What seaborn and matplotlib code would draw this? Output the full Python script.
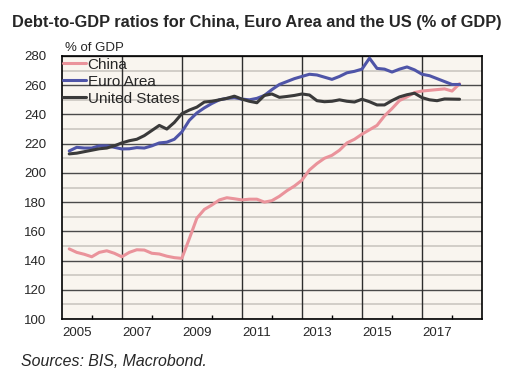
import numpy as np
import pandas as pd
import matplotlib
matplotlib.use("Agg")
import matplotlib.pyplot as plt
import seaborn as sns
from matplotlib.ticker import FixedLocator, MultipleLocator, NullFormatter

# Quarterly data, 2005Q1 - 2018Q1 (% of GDP)
quarters = pd.period_range("2005Q1", "2018Q1", freq="Q")

china = [148, 145.6, 144.3, 142.6, 145.6, 146.7, 145, 142.6, 145.6, 147.4, 147.2, 145, 144.5, 143, 142, 141.5,
         155, 169, 175, 178, 181.5, 183, 182.3, 181.5, 182, 182, 180, 181, 184, 187.8, 191, 195,
         202, 206.4, 210, 212, 215.5, 220.5, 223, 226.5, 229.5, 232.5, 239, 244, 249.5, 252, 255, 256,
         256.5, 257, 257.5, 256, 261]
euro_area = [215, 217.5, 217, 217, 218.5, 218.5, 217.5, 216.4, 216.5, 217.3, 217, 218.5, 220.5, 221, 223, 228,
             236, 241, 244.5, 247.5, 250, 251, 251.5, 250.5, 250, 251, 253, 257, 260.5, 262.5, 264.5, 266,
             267.5, 267, 265.5, 264, 266, 268.5, 269.5, 271, 278.5, 271.5, 271, 269, 271, 272.5, 270.5, 267.5,
             266.5, 264.5, 262.5, 260.5, 260.5]
united_states = [213, 213.5, 214.5, 215.5, 216.5, 217, 218.5, 220.5, 222, 223, 225.5, 229, 232.5, 230, 234.5, 240.5,
                 243, 245, 248.5, 249, 250, 251, 252.5, 250.5, 249, 248, 253, 254, 251.7, 252.3, 253, 254,
                 253.3, 249.4, 248.7, 249, 250, 249, 248.5, 250.4, 248.7, 246.5, 246.5, 249.5, 252, 253.5, 254.5, 251.5,
                 250, 249.4, 250.6, 250.5, 250.4]

series_names = ["China", "Euro Area", "United States"]
colours = ["#ea939b", "#4f55a8", "#3a3a3a"]
year_labels = [2005, 2007, 2009, 2011, 2013, 2015, 2017]

# quarter-end as decimal year
t = np.asarray(quarters.year + quarters.quarter / 4, dtype=float)
df = pd.DataFrame({
    "t": np.tile(t, 3),
    "value": china + euro_area + united_states,
    "series": np.repeat(series_names, len(t)),
})

sns.set_style("ticks")
plt.rcParams["font.family"] = ["Liberation Sans", "DejaVu Sans"]

fig = plt.figure(figsize=(5.24, 3.77), dpi=100)
ax = fig.add_axes([0.1178, 0.1538, 0.8022, 0.6977])
ax.set_facecolor("#f9f5ef")

sns.lineplot(data=df, x="t", y="value", hue="series", hue_order=series_names,
             palette=colours, linewidth=2.2, ax=ax, zorder=3)

ax.set_xlim(2005, 2019)
ax.set_ylim(100, 280)

# y grid: dark every 20, light every 10
ax.yaxis.set_major_locator(MultipleLocator(20))
ax.yaxis.set_minor_locator(MultipleLocator(10))
ax.grid(axis="y", which="minor", color="#cbc7c1", lw=1.2, zorder=0)
ax.grid(axis="y", which="major", color="#4a4a4a", lw=1.0, zorder=1)
ax.set_axisbelow(True)

# x: year labels centred in the year, gridlines at odd years, small ticks at even years
ax.xaxis.set_major_locator(FixedLocator([y + 0.5 for y in year_labels]))
ax.set_xticklabels([str(y) for y in year_labels])
ax.xaxis.set_minor_locator(FixedLocator(range(2006, 2019, 2)))
ax.xaxis.set_minor_formatter(NullFormatter())
for y in year_labels[1:]:
    ax.axvline(y, color="#2e2e2e", lw=1.0, zorder=1)

ax.tick_params(axis="x", which="major", length=0, pad=6, labelsize=9.5)
ax.tick_params(axis="x", which="minor", direction="in", length=3, width=1, color="black")
ax.tick_params(axis="y", which="both", length=0, pad=11, labelsize=9.5)

for s in ax.spines.values():
    s.set_color("black")
    s.set_linewidth(1.2)

ax.set_xlabel("")
ax.set_ylabel("")

ax.legend(loc="upper left", bbox_to_anchor=(0, 1.0), frameon=False, borderaxespad=0,
          borderpad=0.1, handlelength=1.5, handletextpad=0.1, labelspacing=0.2, fontsize=11)

fig.text(256.5 / 524, 1 - 22 / 377, "Debt-to-GDP ratios for China, Euro Area and the US (% of GDP)",
         ha="center", va="center", fontsize=11.8, fontweight="bold")
fig.text(65 / 524, 1 - 54 / 377, "% of GDP", ha="left", va="bottom", fontsize=9.5)
fig.text(21 / 524, 1 - 362 / 377, "Sources: BIS, Macrobond.", ha="left", va="center",
         fontsize=11.4, style="italic")

fig.savefig("out.png", dpi=100, facecolor="white")
